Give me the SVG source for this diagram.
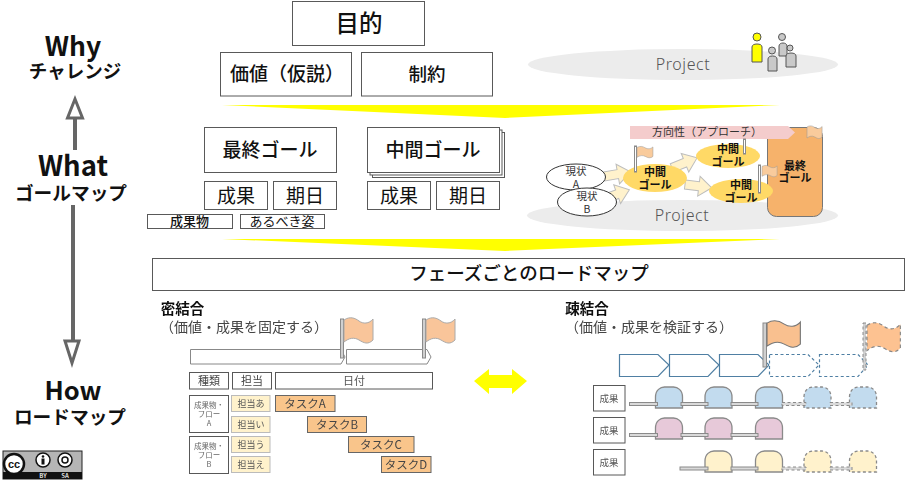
<svg xmlns="http://www.w3.org/2000/svg" xmlns:xlink="http://www.w3.org/1999/xlink" width="923" height="481" viewBox="0 0 923 481">
<style>
text{font-family:"Noto Sans CJK JP","Noto Sans",sans-serif;text-anchor:middle;fill:#111}
.b{fill:#fff;stroke:#595959;stroke-width:1}
.h{font-weight:700}
.m{font-weight:500}
.g{font-family:"Noto Sans",sans-serif;font-weight:300;fill:#555;letter-spacing:.6px}
.rail{fill:#d9d9d9;stroke:#8a8a8a;stroke-width:1}
.pole{fill:#d0d0d0;stroke:#8a8a8a;stroke-width:1}
.pen{fill:#fff;stroke:#4f7fa3;stroke-width:1.2}
.dash{stroke-dasharray:3 2.5}
.bl{fill:#c2dbee}.pk{fill:#e7c9d9}.cr{fill:#fff2cc}
.bump{stroke:#8a8a8a;stroke-width:1.3}
.tk{fill:#f9c58b;stroke:#666;stroke-width:1}
.who{fill:#fff2cc;stroke:#bbb;stroke-width:1}
.ar{fill:#fff2cc;stroke:#bdbdbd;stroke-width:1}
.pers{fill:#c9c9c9;stroke:#555;stroke-width:1}
.fl{fill:#f9cb9c;stroke:#999}
</style>
<defs>
<path id="flag" d="M0 2C6-2 11 0 15 3S25 6 29 1V22C24 27 20 25 15 22S5 20 0 24Z"/>
<path id="bump" d="M0 21V10C0 3 5 0 9 0H18C22 0 27 3 27 10V21Z"/>
<path id="arrow" d="M0-4.500H14V-10L27 0L14 10V4.500H0Z"/>
<filter id="soft" x="-2%" y="-2%" width="104%" height="104%"><feGaussianBlur stdDeviation=".35"/></filter>
</defs>
<g id="labels">
<text x="73" y="56" font-size="26.500" class="h">Why</text>
<text x="75" y="78" font-size="18.500" class="h">チャレンジ</text>
<text x="73" y="176" font-size="27.500" class="h">What</text>
<text x="71" y="200" font-size="18.700" class="h">ゴールマップ</text>
<text x="73" y="400" font-size="25.500" class="h">How</text>
<text x="70" y="424" font-size="18.700" class="h">ロードマップ</text>
</g>
<g id="connectors">
<path d="M75 150V115" stroke="#666" stroke-width="4" fill="none"/>
<path d="M75 99L67.500 118H82.500Z" fill="#fff" stroke="#666" stroke-width="3"/>
<path d="M73 205V345" stroke="#666" stroke-width="4" fill="none"/>
<path d="M72 363L65 341H79Z" fill="#fff" stroke="#666" stroke-width="3"/>
<path d="M222 105H780L505 118Z" fill="#ffff00"/>
<path d="M222 239H780L505 251Z" fill="#ffff00"/>
<path d="M474 381L489 369V375H512V369L527 381L512 394V388H489V394Z" fill="#ffff00"/>
</g>
<g id="top-boxes">
<rect class="b" x="292.500" y="1.500" width="132" height="44"/><text x="359" y="32" font-size="23.500" class="m">目的</text>
<rect class="b" x="220.500" y="52.500" width="131" height="43.500"/><text x="287" y="81" font-size="19" class="m">価値（仮説）</text>
<rect class="b" x="361.500" y="52.500" width="131" height="43.500"/><text x="427" y="81" font-size="18.500" class="m">制約</text>
</g>
<g id="goals">
<rect class="b" x="204.500" y="127.500" width="132" height="45"/><text x="270" y="157" font-size="19" class="m">最終ゴール</text>
<rect class="b" x="372.500" y="132.500" width="132" height="45"/><rect class="b" x="370" y="130" width="132" height="45"/>
<rect class="b" x="367.500" y="127.500" width="132" height="45"/><text x="433" y="157" font-size="19" class="m">中間ゴール</text>
<rect class="b" x="204.500" y="181.500" width="63" height="28"/><text x="236" y="203" font-size="19">成果</text>
<rect class="b" x="273.500" y="181.500" width="63" height="28"/><text x="305" y="203" font-size="19">期日</text>
<rect class="b" x="367.500" y="181.500" width="63" height="28"/><text x="399" y="203" font-size="19">成果</text>
<rect class="b" x="436.500" y="181.500" width="63" height="28"/><text x="468" y="203" font-size="19">期日</text>
<rect class="b" x="147.500" y="214.500" width="85" height="14"/><text x="189.500" y="226" font-size="13" class="m">成果物</text>
<rect class="b" x="240.500" y="214.500" width="84" height="14"/><text x="282" y="226" font-size="13">あるべき姿</text>
</g>
<g id="project-top">
<ellipse cx="683" cy="64.500" rx="155" ry="15.500" fill="#ececec"/>
<text x="683" y="70" font-size="16" class="g">Project</text>
<path class="pers" d="M779 56V46C779 44 781 43 783 43S787 44 787 46V56Z"/><circle cx="782" cy="37" r="3.500" class="pers"/>
<path class="pers" d="M768 71V59C768 57 770 56 772.500 56S777 57 777 59V71Z"/><circle cx="772" cy="50.500" r="3.500" class="pers"/>
<path class="pers" d="M786 67V56C786 54 788 53 791 53S796 54 796 56V67Z"/><circle cx="790" cy="48" r="3" class="pers"/>
<path d="M752 62V47C752 45 754 44 757 44S762 45 762 47V62Z" fill="#ffff00" stroke="#555"/><circle cx="757" cy="37" r="4" fill="#ffff00" stroke="#555"/>
</g>
<g id="project-bottom">
<ellipse cx="682.500" cy="215.500" rx="155.500" ry="15.500" fill="#ececec"/>
<text x="682" y="221" font-size="16" class="g">Project</text>
<rect x="767.500" y="127.500" width="55" height="89" rx="9" fill="#f6b26b" stroke="#777"/>
<text x="795" font-size="11" class="h"><tspan x="795" y="170">最終</tspan><tspan x="795" y="182">ゴール</tspan></text>
<path d="M630 126H788L795 132.500L788 139H630Z" fill="#f4cccc"/>
<text x="707" y="136" font-size="11" style="fill:#333">方向性（アプローチ）</text>
<use xlink:href="#arrow" href="#arrow" class="ar" transform="translate(604 176.500) rotate(-10)"/>
<use xlink:href="#arrow" href="#arrow" class="ar" transform="translate(604 199) rotate(-20)"/>
<use xlink:href="#arrow" href="#arrow" class="ar" transform="translate(672 168) rotate(-22)"/>
<use xlink:href="#arrow" href="#arrow" class="ar" transform="translate(685 184.500) rotate(7)"/>
<ellipse cx="655" cy="178" rx="32" ry="14" fill="#ffd966"/>
<ellipse cx="728" cy="156" rx="32" ry="12" fill="#ffd966"/>
<ellipse cx="741" cy="191" rx="32" ry="12" fill="#ffd966"/>
<text font-size="11" class="h"><tspan x="655" y="176">中間</tspan><tspan x="655" y="189">ゴール</tspan></text>
<text font-size="11" class="h"><tspan x="728" y="153">中間</tspan><tspan x="728" y="166">ゴール</tspan></text>
<text font-size="11" class="h"><tspan x="741" y="189">中間</tspan><tspan x="741" y="202">ゴール</tspan></text>
<ellipse cx="576" cy="177" rx="29.500" ry="13" fill="#fff" stroke="#333"/>
<text font-size="10.500" style="fill:#333"><tspan x="576" y="175">現状</tspan><tspan x="576" y="188">A</tspan></text>
<ellipse cx="587" cy="202" rx="29.500" ry="14" fill="#fff" stroke="#333"/>
<text font-size="10.500" style="fill:#333"><tspan x="587" y="200">現状</tspan><tspan x="587" y="213">B</tspan></text>
<rect class="pole" x="634.500" y="146" width="2" height="26" style="fill:#fff"/>
<use xlink:href="#flag" href="#flag" class="fl" transform="translate(637 146.500) scale(.55 .45)"/>
<rect class="pole" x="743.500" y="139" width="2" height="15" style="fill:#fff"/>
<rect class="pole" x="758.500" y="165" width="2" height="28" style="fill:#fff"/>
<use xlink:href="#flag" href="#flag" class="fl" transform="translate(762 165.500) scale(.52 .45)"/>
<use xlink:href="#flag" href="#flag" class="fl" transform="translate(807 126) scale(.52 .5)"/>
</g>
<g id="phase-title">
<rect class="b" x="152.500" y="258.500" width="752" height="32"/>
<text x="529" y="280" font-size="18.500" class="m">フェーズごとのロードマップ</text>
</g>
<g id="tight" filter="url(#soft)">
<text x="182.500" y="314" font-size="14.500" class="h">密結合</text>
<text x="244" y="332" font-size="14" style="fill:#444">（価値・成果を固定する）</text>
<path d="M190.500 349.500H341L345 357L341 364H190.500Z" fill="#fff" stroke="#888"/>
<path d="M346.500 349.500H427L431 357L427 364H346.500Z" fill="#fff" stroke="#888"/>
<rect class="pole" x="340.500" y="319" width="3" height="39"/>
<use xlink:href="#flag" href="#flag" fill="#f9c59a" stroke="#aaa" x="344" y="318"/>
<rect class="pole" x="422.500" y="319" width="3" height="39"/>
<use xlink:href="#flag" href="#flag" fill="#f9c59a" stroke="#aaa" x="426" y="318"/>
<rect class="b" x="189.500" y="372.500" width="39" height="16.500"/><text x="209" y="385" font-size="11" style="fill:#444">種類</text>
<rect class="b" x="232.500" y="372.500" width="39" height="16.500"/><text x="252" y="385" font-size="11" style="fill:#444">担当</text>
<rect class="b" x="275.500" y="372.500" width="157" height="16.500"/><text x="354" y="385" font-size="11" style="fill:#555">日付</text>
<rect class="b" x="189.500" y="395.500" width="39" height="37"/><text font-size="7.500" style="fill:#666"><tspan x="209" y="408">成果物・</tspan><tspan x="209" y="417">フロー</tspan><tspan x="209" y="426">A</tspan></text>
<rect class="b" x="189.500" y="436.500" width="39" height="37"/><text font-size="7.500" style="fill:#666"><tspan x="209" y="449">成果物・</tspan><tspan x="209" y="458">フロー</tspan><tspan x="209" y="467">B</tspan></text>
<rect class="who" x="231.500" y="395.500" width="38.500" height="16"/><text x="251" y="407" font-size="9" style="fill:#555">担当あ</text>
<rect class="who" x="231.500" y="416.500" width="38.500" height="16"/><text x="251" y="428" font-size="9" style="fill:#555">担当い</text>
<rect class="who" x="231.500" y="436.500" width="38.500" height="16"/><text x="251" y="448" font-size="9" style="fill:#555">担当う</text>
<rect class="who" x="231.500" y="456.500" width="38.500" height="16"/><text x="251" y="468" font-size="9" style="fill:#555">担当え</text>
<rect class="tk" x="275.500" y="395.500" width="59.500" height="16"/><text x="305" y="408" font-size="11.500" style="fill:#444">タスクA</text>
<rect class="tk" x="307.500" y="416.500" width="59" height="16"/><text x="337" y="429" font-size="11.500" style="fill:#444">タスクB</text>
<rect class="tk" x="348.500" y="436.500" width="65.500" height="16"/><text x="381" y="449" font-size="11.500" style="fill:#444">タスクC</text>
<rect class="tk" x="381.500" y="456.500" width="49.500" height="16"/><text x="406" y="469" font-size="11.500" style="fill:#444">タスクD</text>
</g>
<g id="loose" filter="url(#soft)">
<text x="587" y="314" font-size="14.500" class="h">疎結合</text>
<text x="649" y="332" font-size="14" style="fill:#444">（価値・成果を検証する）</text>
<path class="pen" d="M619.500 354.500H658L669 365L658 376.500H619.500Z"/>
<path class="pen" d="M669.500 354.500H708L719 365L708 376.500H669.500Z"/>
<path class="pen" d="M719.500 354.500H758L769 365L758 376.500H719.500Z"/>
<path class="pen dash" d="M769.500 354.500H808L819 365L808 376.500H769.500Z"/>
<path class="pen dash" d="M819.500 354.500H858L868 365L858 376.500H819.500Z"/>
<rect class="pole" x="763" y="323" width="3.500" height="44"/>
<use xlink:href="#flag" href="#flag" fill="#f9c08f" stroke="#777" transform="translate(767 321) scale(1.15 1.05)"/>
<rect class="pole dash" x="863" y="323" width="3" height="47"/>
<use xlink:href="#flag" href="#flag" class="dash" fill="#fdc291" stroke="#888" transform="translate(867 323) scale(1.15 1.15)"/>
<rect class="b" x="593.500" y="385.500" width="31.500" height="25.500"/><text x="609" y="402" font-size="9.500" style="fill:#555">成果</text>
<rect class="b" x="593.500" y="417.500" width="31.500" height="25.500"/><text x="609" y="434" font-size="9.500" style="fill:#555">成果</text>
<rect class="b" x="593.500" y="449.500" width="31.500" height="25.500"/><text x="609" y="466" font-size="9.500" style="fill:#555">成果</text>
<use xlink:href="#bump" href="#bump" class="bump bl" x="655.500" y="387"/><use xlink:href="#bump" href="#bump" class="bump bl" x="705" y="387"/><use xlink:href="#bump" href="#bump" class="bump bl" x="755.500" y="387"/>
<use xlink:href="#bump" href="#bump" class="bump bl dash" x="804" y="387"/><use xlink:href="#bump" href="#bump" class="bump bl dash" x="849.500" y="387"/>
<use xlink:href="#bump" href="#bump" class="bump pk" x="655.500" y="418"/><use xlink:href="#bump" href="#bump" class="bump pk" x="705" y="418"/><use xlink:href="#bump" href="#bump" class="bump pk" x="755.500" y="418"/>
<use xlink:href="#bump" href="#bump" class="bump cr" x="705" y="451"/><use xlink:href="#bump" href="#bump" class="bump cr" x="755.500" y="451"/>
<use xlink:href="#bump" href="#bump" class="bump cr dash" x="804" y="451"/><use xlink:href="#bump" href="#bump" class="bump cr dash" x="849.500" y="451"/>
<rect class="rail" x="629.500" y="402.500" width="28" height="3"/><rect class="rail" x="681" y="402.500" width="27" height="3"/><rect class="rail" x="731" y="402.500" width="27" height="3"/>
<rect class="rail dash" x="782" y="402.500" width="24" height="3"/><rect class="rail dash" x="830" y="402.500" width="22" height="3"/>
<rect class="rail" x="629.500" y="433.500" width="28" height="3"/><rect class="rail" x="681" y="433.500" width="27" height="3"/><rect class="rail" x="731" y="433.500" width="27" height="3"/>
<rect class="rail" x="680" y="467" width="28" height="3"/><rect class="rail" x="731" y="467" width="27" height="3"/>
<rect class="rail dash" x="782" y="467" width="24" height="3"/><rect class="rail dash" x="830" y="467" width="22" height="3"/>
</g>
<g id="cc-badge">
<rect x="3" y="451" width="79" height="28" fill="#b5b5b5" stroke="#222"/>
<rect x="3" y="472" width="79" height="7" fill="#111"/>
<circle cx="14" cy="464" r="10" fill="#fff" stroke="#111" stroke-width="2.500"/>
<text x="14" y="468" font-size="11" class="h" style="font-family:'Liberation Sans',sans-serif">cc</text>
<circle cx="43" cy="460" r="7" fill="#fff" stroke="#111" stroke-width="1.500"/>
<circle cx="43" cy="456.500" r="1.300" fill="#111"/><rect x="41.500" y="458.500" width="3" height="6" fill="#111"/>
<circle cx="65" cy="460" r="7" fill="#fff" stroke="#111" stroke-width="1.500"/>
<circle cx="65" cy="460" r="3" fill="none" stroke="#111" stroke-width="1.500"/>
<text x="43" y="478" font-size="6" class="h" style="fill:#ddd">BY</text>
<text x="65" y="478" font-size="6" class="h" style="fill:#ddd">SA</text>
</g>
</svg>
